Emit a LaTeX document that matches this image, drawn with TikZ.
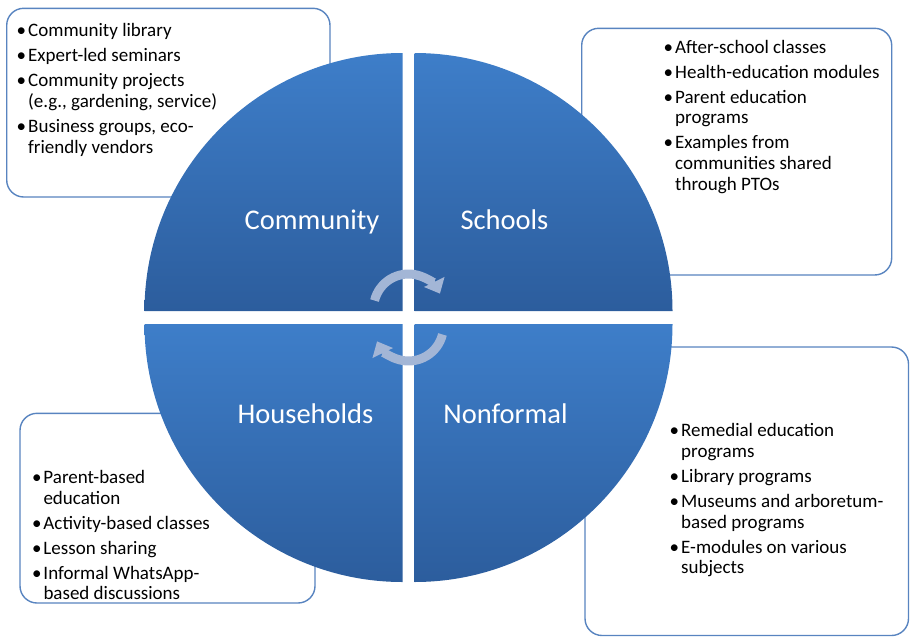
\documentclass[tikz,border=0pt]{standalone}
\usepackage{fontspec}
\setmainfont{Carlito}
\usetikzlibrary{arrows.meta}
\tikzset{>=stealth}

\definecolor{quadlight}{RGB}{62,126,201}
\definecolor{quaddark}{RGB}{44,93,157}
\definecolor{boxline}{RGB}{88,132,192}
\definecolor{cyclegray}{RGB}{163,182,214}

\tikzset{
    listbox/.style = {draw=boxline, line width=1.4pt, rounded corners=17pt, fill=white},
    quad/.style = {top color=quadlight, bottom color=quaddark},
    quadlabel/.style = {text=white, anchor=base, inner sep=0pt, font=\fontsize{28.5}{34}\selectfont},
    listtext/.style = {align=left, inner sep=0pt, anchor=north west, font=\fontsize{19}{20.7}\selectfont},
    cyclearrow/.style = {cyclegray, line width=9pt, -{Triangle[length=13pt,width=22pt]}}
}
\newcommand{\listbullet}{\makebox[10pt][l]{\hspace{-1.5pt}\textbullet}}
\newcommand{\listindent}{\hspace*{10pt}}

\begin{document}
\begin{tikzpicture}[x=1pt, y=1pt]
    \useasboundingbox (0,0) rectangle (910,-637);

    % the four boxes behind the wheel
    \draw [listbox] (6.7,-8.3) rectangle (330,-197);
    \draw [listbox] (581.7,-28.3) rectangle (891.7,-275);
    \draw [listbox] (20,-413.3) rectangle (315,-603);
    \draw [listbox] (585,-347) rectangle (908.5,-635.5);

    % wheel quarters
    \shade [quad] (402.5,-311) -- ++(0,258) arc (90:180:258) -- cycle;
    \shade [quad] (414.5,-311) -- ++(258,0) arc (0:90:258) -- cycle;
    \shade [quad] (402.5,-324) -- ++(-258,0) arc (180:270:258) -- cycle;
    \shade [quad] (414.5,-324) -- ++(0,-258) arc (270:360:258) -- cycle;

    \node [quadlabel] (community) at (312,-229) {Community};
    \node [quadlabel] (schools) at (504.5,-229) {Schools};
    \node [quadlabel] (households) at (305.5,-423) {Households};
    \node [quadlabel] (nonformal) at (505.5,-423) {Nonformal};

    % cycle arrows in the middle
    \draw [cyclearrow] (408.5,-309) ++(166:35) arc (166:26:35);
    \draw [cyclearrow] (408.5,-326) ++(-14:35) arc (-14:-154:35);

    \node [listtext] (commlist) at (18,-23.5) {%
        \listbullet Community library\\[4.3pt]
        \listbullet Expert-led seminars\\[4.3pt]
        \listbullet Community projects\\
        \listindent (e.g., gardening, service)\\[4.3pt]
        \listbullet Business groups, eco-\\
        \listindent friendly vendors};
    \node [listtext] (schoollist) at (665,-39.7) {%
        \listbullet After-school classes\\[4.3pt]
        \listbullet Health-education modules\\[4.3pt]
        \listbullet Parent education\\
        \listindent programs\\[4.3pt]
        \listbullet Examples from\\
        \listindent communities shared\\
        \listindent through PTOs};
    \node [listtext] (houselist) at (33.3,-470) {%
        \listbullet Parent-based\\
        \listindent education\\[4.3pt]
        \listbullet Activity-based classes\\[4.3pt]
        \listbullet Lesson sharing\\[4.3pt]
        \listbullet Informal WhatsApp-\\
        \listindent based discussions};
    \node [listtext] (nonlist) at (671,-423.5) {%
        \listbullet Remedial education\\
        \listindent programs\\[4.3pt]
        \listbullet Library programs\\[4.3pt]
        \listbullet Museums and arboretum-\\
        \listindent based programs\\[4.3pt]
        \listbullet E-modules on various\\
        \listindent subjects};
\end{tikzpicture}
\end{document}
